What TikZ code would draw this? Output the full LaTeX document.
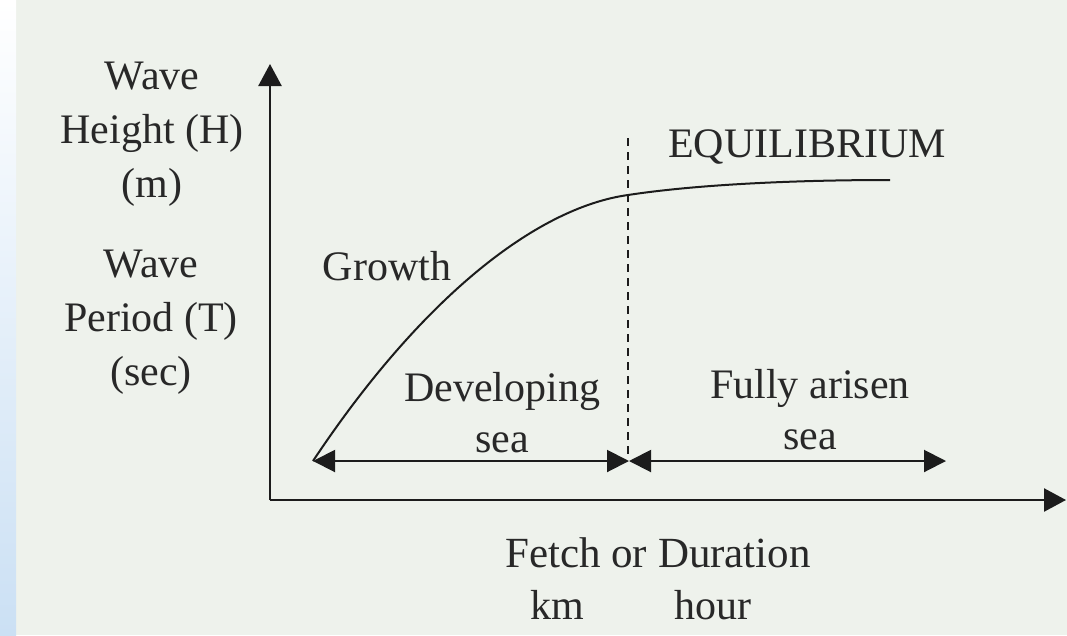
\documentclass[tikz,border=0pt]{standalone}
\usepackage{fontspec}
\setmainfont{Liberation Serif}
\usepackage{tikz}
\usetikzlibrary{arrows.meta,calc,positioning}
\definecolor{pagebg}{RGB}{238,242,236}
\definecolor{stripbl}{RGB}{203,224,244}
\definecolor{ink}{RGB}{28,28,28}
\definecolor{txt}{RGB}{40,40,40}

\begin{document}
\begin{tikzpicture}[x=1pt,y=-1pt,line join=round,
    lbl/.style={text=txt,font=\fontsize{42}{54}\selectfont,align=center,inner sep=0pt},
    axisline/.style={ink,line width=2.4pt,-{Triangle[length=22pt,width=23pt]}},
    span/.style={ink,line width=2pt,{Triangle[length=22pt,width=22pt]}-{Triangle[length=22pt,width=22pt]}}]
  \useasboundingbox (0,0) rectangle (1067,635);
  \fill[pagebg] (0,0) rectangle (1067,635);
  \shade[top color=white,bottom color=stripbl] (0,0) rectangle (16,635);
  % axes and marks
  \coordinate (O) at (270,500); \coordinate (ytip) at (270,64); \coordinate (xtip) at (1066,500);
  \coordinate (s) at (313,461); \coordinate (m) at (629,461); \coordinate (e) at (946,461);
  \coordinate (c) at (628,195); \coordinate (f) at (890,180); \coordinate (dtop) at (628,138);
  \draw[axisline] (O) -- (ytip);
  \draw[axisline] (O) -- (xtip);
  \draw[ink,line width=1.8pt,dash pattern=on 8pt off 6pt] (dtop) -- (628,458);
  \draw[ink,line width=2pt] (s) .. controls (420,300) and (535,208) .. (c)
                                .. controls (700,184) and (800,180) .. (f);
  \draw[span] (s) -- (m);
  \draw[span] (m) -- (e);
  % labels
  \node[lbl] (hgt) at (152,134) {Wave\\Height (H)\\(m)};
  \node[lbl] (per) at (151,322) {Wave\\Period (T)\\(sec)};
  \node[lbl] (grow) at (387,266) {Growth};
  \node[lbl] (eq) at (807,147) {EQUILIBRIUM};
  \node[lbl,font=\fontsize{42}{51}\selectfont] (dev) at (502,413) {Developing\\sea};
  \node[lbl,font=\fontsize{42}{51}\selectfont] (full) at (810,410) {Fully arisen\\sea};
  \node[lbl,font=\fontsize{43}{52}\selectfont] (fetch) at (658,553) {Fetch or Duration};
  \node[lbl] (unit) at (641,605) {km\hspace{90pt}hour};
\end{tikzpicture}
\end{document}
